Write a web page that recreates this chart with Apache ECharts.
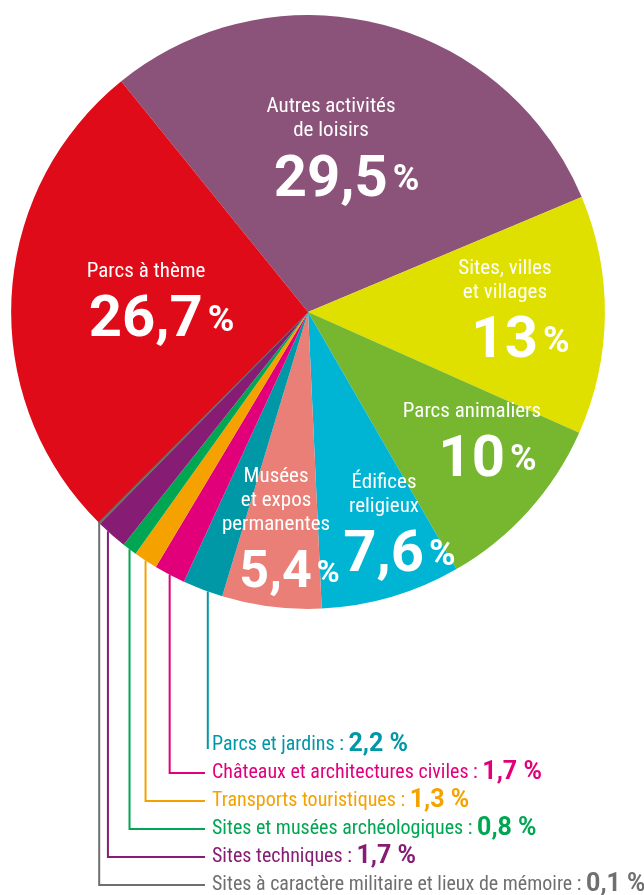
<!DOCTYPE html>
<html><head><meta charset="utf-8">
<script src="https://cdn.jsdelivr.net/npm/echarts@6/dist/echarts.min.js"></script>
<style>html,body{margin:0;padding:0;background:#fff}#c{width:644px;height:895px}</style>
</head><body><div id="c"></div>
<script>
// ---- data ----
const categories = [
  "Autres activités de loisirs", "Sites, villes et villages", "Parcs animaliers",
  "Édifices religieux", "Musées et expos permanentes", "Parcs et jardins",
  "Châteaux et architectures civiles", "Transports touristiques",
  "Sites et musées archéologiques", "Sites techniques",
  "Sites à caractère militaire et lieux de mémoire", "Parcs à thème"
];
const shares = [29.5, 13, 10, 7.6, 5.4, 2.2, 1.7, 1.3, 0.8, 1.7, 0.1, 26.7];
const valueTexts = ["29,5", "13", "10", "7,6", "5,4", "2,2", "1,7", "1,3", "0,8", "1,7", "0,1", "26,7"];
const innerNames = [
  "Autres activités\nde loisirs", "Sites, villes\net villages", "Parcs animaliers",
  "Édifices\nreligieux", "Musées\net expos\npermanentes", null, null, null, null, null, null,
  "Parcs à thème"
];

// ---- styles ----
const colors = ["#8B527A", "#DFDF00", "#76B72F", "#00B4D3", "#E97F76", "#0097A7",
  "#E2007A", "#F5A100", "#00A651", "#861C73", "#6F6F6F", "#E00B18"];
const NARROW = "'Liberation Sans Narrow','Roboto Condensed','DejaVu Sans Condensed',sans-serif";
const BOLD = "Roboto,'Liberation Sans',sans-serif";
// inner label placement: [radius fraction, angle offset in degrees from slice middle]
const innerPlace = {0: [0.5276, -5.66], 1: [0.6637, 1.435], 2: [0.7206, -2.02], 3: [0.7853, -2.70], 4: [0.7702, 0.96], 11: [0.5455, -2.06]};
// number font sizes inside the pie (default 58 / 36)
const numSize = {4: 52}, pctSize = {4: 31};
// callout (outside) labels order and leader anchor position within slice (fraction of its angle)
const calloutOrder = [5, 6, 7, 8, 9, 10];
const leaderFrac = {5: 0.37, 9: 0.65};
const calloutLeft = 212, calloutTop = 745, calloutStep = 28;

const chart = echarts.init(document.getElementById('c'), null, {renderer: 'canvas'});

const data = categories.map((name, i) => {
  const inner = innerNames[i] != null;
  const item = {
    name: name, value: shares[i],
    itemStyle: {color: colors[i]}
  };
  if (i === 10) { item.itemStyle.borderColor = colors[i]; item.itemStyle.borderWidth = 1.2; }
  if (inner) {
    const ns = numSize[i] || 58, ps = pctSize[i] || 36;
    item.label = {
      show: true, position: 'inside',
      formatter: '{n|' + innerNames[i].split('\n').join('}\n{n|') + '}\n{sp|}{v|' + valueTexts[i] + '}{p|%}',
      rich: {
        n: {color: '#fff', fontFamily: NARROW, fontSize: 21, lineHeight: 24, align: 'center'},
        sp: {width: Math.round(ps * 0.72 + 5)},
        v: {color: '#fff', fontFamily: BOLD, fontWeight: 'bold', fontSize: ns, lineHeight: 76},
        p: {color: '#fff', fontFamily: BOLD, fontWeight: 'bold', fontSize: ps, lineHeight: 76, padding: [0, 0, 0, 5]}
      }
    };
    item.labelLine = {show: false};
  } else {
    item.label = {
      show: true, position: 'outside',
      formatter: '{t|' + name + ' : }{v|' + valueTexts[i] + ' %}',
      rich: {
        t: {color: colors[i], fontFamily: NARROW, fontSize: 20, lineHeight: 26},
        v: {color: colors[i], fontFamily: BOLD, fontWeight: 'bold', fontSize: 25, lineHeight: 26}
      }
    };
    item.labelLine = {show: true, lineStyle: {color: colors[i], width: 2}};
  }
  return item;
});

chart.setOption({
  animation: false,
  series: [{
    type: 'pie',
    center: ['47.83%', '34.86%'],
    radius: '92.2%',
    startAngle: 129,
    clockwise: true,
    avoidLabelOverlap: false,
    data: data,
    emphasis: {disabled: true},
    labelLayout: function (p) {
      const sd = chart.getModel().getSeriesByIndex(0).getData();
      const L = sd.getItemLayout(p.dataIndex);
      const mid = (L.startAngle + L.endAngle) / 2;
      const i = p.dataIndex;
      if (innerPlace[i]) {
        const a = mid + innerPlace[i][1] * Math.PI / 180;
        const rr = L.r * innerPlace[i][0];
        return {x: L.cx + rr * Math.cos(a), y: L.cy + rr * Math.sin(a), align: 'center', verticalAlign: 'middle'};
      }
      const k = calloutOrder.indexOf(i);
      const f = leaderFrac[i] != null ? leaderFrac[i] : 0.5;
      const a = L.startAngle + (L.endAngle - L.startAngle) * f;
      const x0 = L.cx + L.r * Math.cos(a), y0 = L.cy + L.r * Math.sin(a);
      const yL = calloutTop + k * calloutStep;
      const xEnd = calloutLeft - 7;
      const pts = (xEnd - x0 < 6) ? [[x0, y0], [x0, yL + 4], [x0, yL + 4]] : [[x0, y0], [x0, yL], [xEnd, yL]];
      return {x: calloutLeft, y: yL, align: 'left', verticalAlign: 'middle', labelLinePoints: pts};
    }
  }]
});
</script></body></html>
